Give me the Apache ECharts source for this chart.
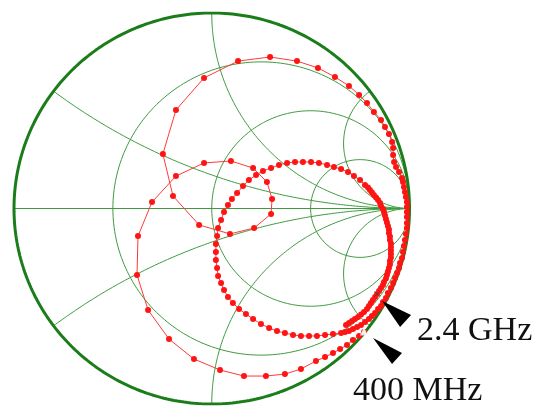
<!DOCTYPE html>
<html>
<head>
<meta charset="utf-8">
<script src="https://cdn.jsdelivr.net/npm/echarts@6/dist/echarts.min.js"></script>
<style>
  html, body { margin: 0; padding: 0; background: #ffffff; }
  #chart { width: 536px; height: 407px; }
</style>
</head>
<body>
<div id="chart"></div>
<script>
// Normalised resistance circles and reactance arcs of the Smith grid
const resistanceCircles = [1 / 3, 1, 3];
const reactanceArcs = [1 / 3, 1, 3];

// Reflection coefficient [Re, Im], sweep from 400 MHz upward
const sweepLow = [
  [0.770, -0.632], [0.745, -0.652], [0.714, -0.673], [0.684, -0.698], [0.649, -0.719],
  [0.613, -0.739], [0.573, -0.760], [0.527, -0.780], [0.451, -0.821], [0.370, -0.847],
  [0.274, -0.857], [0.163, -0.857], [0.042, -0.826], [-0.090, -0.770], [-0.216, -0.668],
  [-0.322, -0.519], [-0.378, -0.340], [-0.373, -0.141], [-0.302, 0.033], [-0.181, 0.166],
  [-0.039, 0.233], [0.097, 0.243], [0.209, 0.207], [0.279, 0.136], [0.305, 0.049],
  [0.300, -0.028], [0.214, -0.100], [0.092, -0.130], [-0.064, -0.084], [-0.196, 0.064],
  [-0.247, 0.279], [-0.181, 0.504], [-0.039, 0.668], [0.133, 0.754], [0.295, 0.775],
  [0.431, 0.754], [0.537, 0.719], [0.623, 0.673], [0.694, 0.627], [0.745, 0.581],
  [0.785, 0.540], [0.820, 0.494], [0.856, 0.453], [0.876, 0.417], [0.896, 0.381],
  [0.912, 0.340], [0.917, 0.309], [0.917, 0.274], [0.922, 0.238], [0.932, 0.212],
  [0.947, 0.187], [0.962, 0.156], [0.967, 0.136], [0.972, 0.110], [0.977, 0.084],
  [0.982, 0.059], [0.987, 0.033], [0.987, 0.008], [0.987, -0.018], [0.987, -0.043],
  [0.987, -0.074], [0.987, -0.100], [0.982, -0.130], [0.977, -0.161], [0.972, -0.192],
  [0.967, -0.223], [0.962, -0.253], [0.952, -0.279], [0.947, -0.304], [0.937, -0.330],
  [0.927, -0.356], [0.917, -0.381], [0.906, -0.407], [0.891, -0.432], [0.881, -0.458],
  [0.866, -0.478], [0.856, -0.499], [0.841, -0.514]
];

const sweepHigh = [
  [0.826, -0.535], [0.810, -0.550], [0.795, -0.565], [0.775, -0.581], [0.755, -0.596],
  [0.735, -0.606], [0.714, -0.616], [0.694, -0.627], [0.674, -0.632], [0.654, -0.637],
  [0.613, -0.642], [0.573, -0.647], [0.532, -0.652], [0.492, -0.652], [0.451, -0.652],
  [0.411, -0.647], [0.370, -0.637], [0.330, -0.627], [0.290, -0.611], [0.249, -0.591],
  [0.209, -0.565], [0.173, -0.540], [0.138, -0.514], [0.107, -0.483], [0.082, -0.453],
  [0.062, -0.417], [0.047, -0.381], [0.032, -0.345], [0.027, -0.304], [0.021, -0.263],
  [0.021, -0.223], [0.021, -0.182], [0.027, -0.141], [0.032, -0.100], [0.047, -0.059],
  [0.062, -0.018], [0.082, 0.018], [0.102, 0.049], [0.128, 0.079], [0.158, 0.115],
  [0.188, 0.146], [0.224, 0.171], [0.259, 0.192], [0.300, 0.207], [0.340, 0.223],
  [0.381, 0.233], [0.421, 0.238], [0.461, 0.238], [0.502, 0.238], [0.542, 0.233],
  [0.583, 0.223], [0.618, 0.212], [0.654, 0.202], [0.689, 0.187], [0.719, 0.166],
  [0.750, 0.146], [0.775, 0.120], [0.790, 0.107], [0.800, 0.095], [0.810, 0.082],
  [0.820, 0.069], [0.831, 0.056], [0.841, 0.043], [0.851, 0.028], [0.856, 0.013],
  [0.866, -0.003], [0.871, -0.018], [0.876, -0.036], [0.881, -0.054], [0.886, -0.072],
  [0.891, -0.090], [0.896, -0.107], [0.896, -0.125], [0.901, -0.143], [0.901, -0.161],
  [0.906, -0.179], [0.906, -0.197], [0.906, -0.215], [0.906, -0.233], [0.906, -0.251],
  [0.901, -0.269], [0.901, -0.286], [0.896, -0.304], [0.891, -0.322], [0.886, -0.340],
  [0.881, -0.358], [0.871, -0.376], [0.866, -0.391], [0.856, -0.407], [0.846, -0.422],
  [0.836, -0.437], [0.826, -0.453], [0.815, -0.468], [0.805, -0.483], [0.795, -0.499],
  [0.785, -0.514], [0.770, -0.529], [0.755, -0.542], [0.740, -0.555], [0.724, -0.565],
  [0.709, -0.575], [0.694, -0.586], [0.679, -0.596]
];

// Frequency markers and where they sit in the sweep
const markerLabels = ['400 MHz', '2.4 GHz'];
const markerIndex = [0, sweepLow.length + 90];

const trace = sweepLow.concat(sweepHigh);

const GRID_GREEN = '#3f9a3f';
const EDGE_GREEN = '#1a7d1a';

function circlePoints(cx, cy, rad, n) {
  const pts = [];
  for (let i = 0; i <= n; i++) {
    const a = (i / n) * Math.PI * 2;
    pts.push([cx + rad * Math.cos(a), cy + rad * Math.sin(a)]);
  }
  return pts;
}

// Constant-reactance arc: sweep normalised resistance from 0 to very large
function reactancePoints(x, n) {
  const pts = [];
  for (let i = 0; i <= n; i++) {
    const t = i / n;
    const r = t < 1 ? t / (1 - t) : 1e6;
    const den = (r + 1) * (r + 1) + x * x;
    pts.push([(r * r + x * x - 1) / den, (2 * x) / den]);
  }
  return pts;
}

const gridSeries = [];
function gridLine(data, color, width, z) {
  gridSeries.push({
    type: 'line', data: data, showSymbol: false, silent: true, z: z,
    lineStyle: { color: color, width: width }, animation: false
  });
}

resistanceCircles.forEach(r => gridLine(circlePoints(r / (1 + r), 0, 1 / (1 + r), 240), GRID_GREEN, 1, 1));
reactanceArcs.forEach(x => {
  gridLine(reactancePoints(x, 400), GRID_GREEN, 1, 1);
  gridLine(reactancePoints(-x, 400), GRID_GREEN, 1, 1);
});
gridLine([[-1, 0], [1, 0]], GRID_GREEN, 1, 1);
gridLine(circlePoints(0, 0, 1, 360), EDGE_GREEN, 3, 2);

const chart = echarts.init(document.getElementById('chart'), null, { renderer: 'canvas' });

chart.setOption({
  animation: false,
  backgroundColor: '#ffffff',
  grid: { left: 14, top: 13, width: 395.5, height: 391 },
  xAxis: { type: 'value', min: -1, max: 1, show: false },
  yAxis: { type: 'value', min: -1, max: 1, show: false },
  series: gridSeries.concat([
    {
      type: 'line',
      data: trace,
      z: 5,
      symbol: 'circle',
      symbolSize: 6,
      showAllSymbol: true,
      itemStyle: { color: '#ff1414' },
      lineStyle: { color: '#ff3a3a', width: 1 },
      silent: true
    },
    {
      type: 'scatter',
      z: 6,
      silent: true,
      data: [trace[markerIndex[0]]],
      symbol: 'emptyTriangle',
      symbolSize: 5,
      itemStyle: { color: '#ffffff', borderColor: '#444444', borderWidth: 1 }
    },
    {
      type: 'scatter',
      z: 6,
      silent: true,
      data: [trace[markerIndex[1]]],
      symbol: 'path://M0,0L10,10M10,0L0,10',
      symbolSize: 5,
      itemStyle: { color: 'none', borderColor: '#444444', borderWidth: 1 }
    }
  ])
});

// Arrowheads and labels beside each frequency marker
const arrowShape = [
  { tip: [9, 6], a: [38, 21], b: [28, 32], text: [-11, 59] },
  { tip: [5, 7], a: [34, 21], b: [23, 33], text: [40, 37.5] }
];
const graphics = [];
markerIndex.forEach((idx, k) => {
  const p = chart.convertToPixel({ gridIndex: 0 }, trace[idx]);
  const s = arrowShape[k];
  graphics.push({
    type: 'polygon',
    shape: { points: [[p[0] + s.tip[0], p[1] + s.tip[1]], [p[0] + s.a[0], p[1] + s.a[1]], [p[0] + s.b[0], p[1] + s.b[1]]] },
    style: { fill: '#000000' },
    z: 10
  });
  graphics.push({
    type: 'text',
    x: p[0] + s.text[0],
    y: p[1] + s.text[1],
    style: {
      text: markerLabels[k],
      font: '34px "Liberation Serif", "Times New Roman", serif',
      fill: '#111111',
      align: 'left',
      verticalAlign: 'middle'
    },
    z: 10
  });
});
chart.setOption({ graphic: graphics });
</script>
</body>
</html>
